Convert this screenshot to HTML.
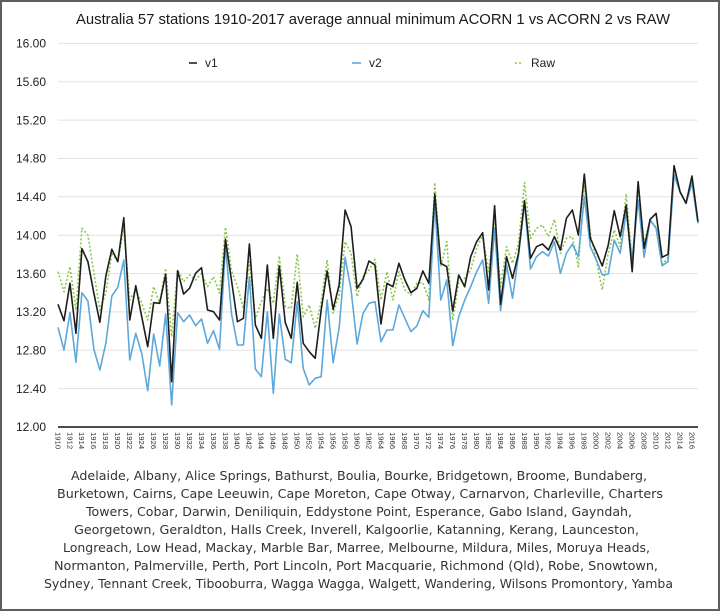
<!DOCTYPE html>
<html><head><meta charset="utf-8"><style>
html,body{margin:0;padding:0;background:#fff;}
#wrap{width:720px;height:611px;position:relative;overflow:hidden;background:#fff;box-sizing:border-box;border:2px solid #5e5e5e;}
svg{position:absolute;left:-2px;top:-2px;}
</style></head><body><div id="wrap">
<svg width="720" height="611" viewBox="0 0 720 611" xmlns="http://www.w3.org/2000/svg" font-family="Liberation Sans, Arial, sans-serif">
<!-- title -->
<text x="76" y="24" font-size="15" fill="#1a1a1a" textLength="594" lengthAdjust="spacingAndGlyphs">Australia 57 stations 1910-2017 average annual minimum ACORN 1 vs ACORN 2 vs RAW</text>
<!-- gridlines -->
<g stroke="#e2e2e2" stroke-width="1">
<line x1="58" x2="698" y1="43.4" y2="43.4"/>
<line x1="58" x2="698" y1="81.8" y2="81.8"/>
<line x1="58" x2="698" y1="120.1" y2="120.1"/>
<line x1="58" x2="698" y1="158.5" y2="158.5"/>
<line x1="58" x2="698" y1="196.8" y2="196.8"/>
<line x1="58" x2="698" y1="235.2" y2="235.2"/>
<line x1="58" x2="698" y1="273.6" y2="273.6"/>
<line x1="58" x2="698" y1="311.9" y2="311.9"/>
<line x1="58" x2="698" y1="350.3" y2="350.3"/>
<line x1="58" x2="698" y1="388.6" y2="388.6"/>
</g>
<!-- y labels -->
<g font-size="12" fill="#222" text-anchor="end">
<text x="46" y="47.6">16.00</text>
<text x="46" y="86">15.60</text>
<text x="46" y="124.3">15.20</text>
<text x="46" y="162.7">14.80</text>
<text x="46" y="201">14.40</text>
<text x="46" y="239.4">14.00</text>
<text x="46" y="277.8">13.60</text>
<text x="46" y="316.1">13.20</text>
<text x="46" y="354.5">12.80</text>
<text x="46" y="392.8">12.40</text>
<text x="46" y="431.2">12.00</text>
</g>
<!-- legend -->
<line x1="189" x2="197" y1="63" y2="63" stroke="#222" stroke-width="1.6"/>
<text x="205" y="67" font-size="12" fill="#222">v1</text>
<line x1="352" x2="361" y1="63" y2="63" stroke="#5ea8dc" stroke-width="1.6"/>
<text x="369" y="67" font-size="12" fill="#222">v2</text>
<line x1="515" x2="523" y1="63" y2="63" stroke="#8cc84a" stroke-width="1.6" stroke-dasharray="2 2"/>
<text x="531" y="67" font-size="12" fill="#222">Raw</text>
<!-- series -->
<g transform="translate(58,0) scale(5.981,1)" fill="none" stroke-linejoin="round">
<polyline vector-effect="non-scaling-stroke" stroke="#8cc84a" stroke-width="1.6" stroke-dasharray="2 2" points="0,271.7 1,291.7 2,266.7 3,310 4,228.3 5,235 6,273 7,310 8,293 9,253 10,261.7 11,228 12,300 13,290 14,303 15,320 16,286.7 17,303 18,268.3 19,336.7 20,270 21,281.7 22,275 23,280 24,273.3 25,286.7 26,276.7 27,293 28,227.3 29,270 30,286.7 31,308.3 32,261.7 33,318.3 34,301.7 35,288.3 36,303.3 37,256 38,306.7 39,308.3 40,254 41,316.7 42,305 43,328.3 44,301.7 45,260 46,313.3 47,295 48,241.7 49,253.3 50,296.7 51,276.7 52,270 53,259.3 54,300 55,271.7 56,300 57,271.7 58,290 59,295 60,283.3 61,282.7 62,300 63,182.7 64,266.7 65,241.7 66,320 67,282.7 68,278.3 69,270 70,248.3 71,235 72,271.7 73,220 74,286.7 75,246.7 76,263.3 77,243.3 78,182.7 79,238.3 80,228.3 81,225 82,236.7 83,219.3 84,253.3 85,238.3 86,236.7 87,266.7 88,185 89,233.3 90,260 91,290 92,253.3 93,230 94,246.7 95,194 96,260 97,190 98,243.3 99,220 100,227.3 101,265 102,257.3 103,173.3 104,191.7 105,203.3 106,178.3 107,223.3"/>
<polyline vector-effect="non-scaling-stroke" stroke="#5ea8dc" stroke-width="1.6" points="0,327.3 1,350 2,312.7 3,362.3 4,292.7 5,301 6,349.3 7,370 8,343.3 9,296 10,287.3 11,260 12,360 13,333.3 14,353.3 15,390.7 16,334 17,366 18,314 19,405 20,312.7 21,321.7 22,315 23,325.7 24,319 25,343.3 26,330.7 27,349.3 28,245 29,313.3 30,345 31,345 32,276.7 33,369 34,376.7 35,311.7 36,393.3 37,314 38,359.3 39,362.7 40,301.7 41,368.3 42,385 43,378.3 44,376.7 45,300 46,362.7 47,328.3 48,257.3 49,290 50,344 51,313.3 52,303.3 53,301.7 54,341.7 55,330 56,330 57,305 58,318.3 59,331.7 60,326 61,310.7 62,317.3 63,203.3 64,300 65,280 66,345.7 67,316.7 68,300 69,286.7 70,271.7 71,260 72,303.3 73,228.3 74,310.7 75,265 76,298.3 77,255 78,203.3 79,269 80,256.7 81,251.7 82,256 83,241.7 84,273.3 85,253.3 86,244 87,256.7 88,196.7 89,246.7 90,260 91,275 92,274 93,240 94,253.3 95,211.7 96,260 97,200 98,257.3 99,220 100,228.3 101,265.7 102,261.7 103,175 104,191.7 105,203.3 106,183.3 107,223.3"/>
<polyline vector-effect="non-scaling-stroke" stroke="#1e1e1e" stroke-width="1.6" points="0,304.3 1,320.7 2,283.3 3,333.3 4,248.7 5,261.7 6,293.3 7,322.3 8,276 9,249.3 10,261.7 11,217.7 12,320 13,285.7 14,316.7 15,346.7 16,302.7 17,303.3 18,274.3 19,381.7 20,270.7 21,294 22,288.3 23,273.3 24,267.7 25,310 26,311.7 27,320 28,239.3 29,280 30,321.7 31,318.3 32,244 33,325 34,338.3 35,265 36,338.3 37,266 38,322.7 39,338.3 40,282.3 41,343.3 42,351.7 43,358.3 44,310 45,271 46,309.3 47,285 48,210 49,226.7 50,288.3 51,279.3 52,261 53,265 54,324 55,283.3 56,286.7 57,263.3 58,280 59,292.7 60,288.3 61,271 62,283.3 63,194 64,263.3 65,266.7 66,311 67,275 68,286.7 69,256.7 70,241.7 71,232.7 72,290 73,205.7 74,304.3 75,256.7 76,278.3 77,253.3 78,200.7 79,258.3 80,246.7 81,244 82,250 83,236.7 84,250 85,218.3 86,210 87,235 88,174 89,238.3 90,251.7 91,266 92,245 93,210.7 94,236.7 95,205 96,271.7 97,181.7 98,248.3 99,219.3 100,213.3 101,257.3 102,254.3 103,165.7 104,191.7 105,203.3 106,176 107,221.7"/>
</g>
<!-- x axis -->
<line x1="58" x2="698" y1="427" y2="427" stroke="#111" stroke-width="1.5"/>
<g font-size="7.7" fill="#333" transform="translate(-2.7,432)">
<text transform="translate(58.00,0) rotate(90)">1910</text>
<text transform="translate(69.96,0) rotate(90)">1912</text>
<text transform="translate(81.92,0) rotate(90)">1914</text>
<text transform="translate(93.89,0) rotate(90)">1916</text>
<text transform="translate(105.85,0) rotate(90)">1918</text>
<text transform="translate(117.81,0) rotate(90)">1920</text>
<text transform="translate(129.77,0) rotate(90)">1922</text>
<text transform="translate(141.73,0) rotate(90)">1924</text>
<text transform="translate(153.70,0) rotate(90)">1926</text>
<text transform="translate(165.66,0) rotate(90)">1928</text>
<text transform="translate(177.62,0) rotate(90)">1930</text>
<text transform="translate(189.58,0) rotate(90)">1932</text>
<text transform="translate(201.54,0) rotate(90)">1934</text>
<text transform="translate(213.51,0) rotate(90)">1936</text>
<text transform="translate(225.47,0) rotate(90)">1938</text>
<text transform="translate(237.43,0) rotate(90)">1940</text>
<text transform="translate(249.39,0) rotate(90)">1942</text>
<text transform="translate(261.35,0) rotate(90)">1944</text>
<text transform="translate(273.32,0) rotate(90)">1946</text>
<text transform="translate(285.28,0) rotate(90)">1948</text>
<text transform="translate(297.24,0) rotate(90)">1950</text>
<text transform="translate(309.20,0) rotate(90)">1952</text>
<text transform="translate(321.16,0) rotate(90)">1954</text>
<text transform="translate(333.13,0) rotate(90)">1956</text>
<text transform="translate(345.09,0) rotate(90)">1958</text>
<text transform="translate(357.05,0) rotate(90)">1960</text>
<text transform="translate(369.01,0) rotate(90)">1962</text>
<text transform="translate(380.97,0) rotate(90)">1964</text>
<text transform="translate(392.94,0) rotate(90)">1966</text>
<text transform="translate(404.90,0) rotate(90)">1968</text>
<text transform="translate(416.86,0) rotate(90)">1970</text>
<text transform="translate(428.82,0) rotate(90)">1972</text>
<text transform="translate(440.78,0) rotate(90)">1974</text>
<text transform="translate(452.75,0) rotate(90)">1976</text>
<text transform="translate(464.71,0) rotate(90)">1978</text>
<text transform="translate(476.67,0) rotate(90)">1980</text>
<text transform="translate(488.63,0) rotate(90)">1982</text>
<text transform="translate(500.59,0) rotate(90)">1984</text>
<text transform="translate(512.56,0) rotate(90)">1986</text>
<text transform="translate(524.52,0) rotate(90)">1988</text>
<text transform="translate(536.48,0) rotate(90)">1990</text>
<text transform="translate(548.44,0) rotate(90)">1992</text>
<text transform="translate(560.40,0) rotate(90)">1994</text>
<text transform="translate(572.37,0) rotate(90)">1996</text>
<text transform="translate(584.33,0) rotate(90)">1998</text>
<text transform="translate(596.29,0) rotate(90)">2000</text>
<text transform="translate(608.25,0) rotate(90)">2002</text>
<text transform="translate(620.21,0) rotate(90)">2004</text>
<text transform="translate(632.18,0) rotate(90)">2006</text>
<text transform="translate(644.14,0) rotate(90)">2008</text>
<text transform="translate(656.10,0) rotate(90)">2010</text>
<text transform="translate(668.06,0) rotate(90)">2012</text>
<text transform="translate(680.02,0) rotate(90)">2014</text>
<text transform="translate(691.99,0) rotate(90)">2016</text>
</g>
<!-- station list -->
<g font-family="DejaVu Sans, Liberation Sans, sans-serif" font-size="12" fill="#333" lengthAdjust="spacingAndGlyphs">
<text x="71" y="480" textLength="576" lengthAdjust="spacingAndGlyphs">Adelaide, Albany, Alice Springs, Bathurst, Boulia, Bourke, Bridgetown, Broome, Bundaberg,</text>
<text x="57" y="498" textLength="606" lengthAdjust="spacingAndGlyphs">Burketown, Cairns, Cape Leeuwin, Cape Moreton, Cape Otway, Carnarvon, Charleville, Charters</text>
<text x="86" y="516" textLength="546" lengthAdjust="spacingAndGlyphs">Towers, Cobar, Darwin, Deniliquin, Eddystone Point, Esperance, Gabo Island, Gayndah,</text>
<text x="74" y="534" textLength="565" lengthAdjust="spacingAndGlyphs">Georgetown, Geraldton, Halls Creek, Inverell, Kalgoorlie, Katanning, Kerang, Launceston,</text>
<text x="63" y="552" textLength="587" lengthAdjust="spacingAndGlyphs">Longreach, Low Head, Mackay, Marble Bar, Marree, Melbourne, Mildura, Miles, Moruya Heads,</text>
<text x="54" y="570" textLength="604" lengthAdjust="spacingAndGlyphs">Normanton, Palmerville, Perth, Port Lincoln, Port Macquarie, Richmond (Qld), Robe, Snowtown,</text>
<text x="44" y="588" textLength="629" lengthAdjust="spacingAndGlyphs">Sydney, Tennant Creek, Tibooburra, Wagga Wagga, Walgett, Wandering, Wilsons Promontory, Yamba</text>
</g>
</svg>
</div></body></html>
